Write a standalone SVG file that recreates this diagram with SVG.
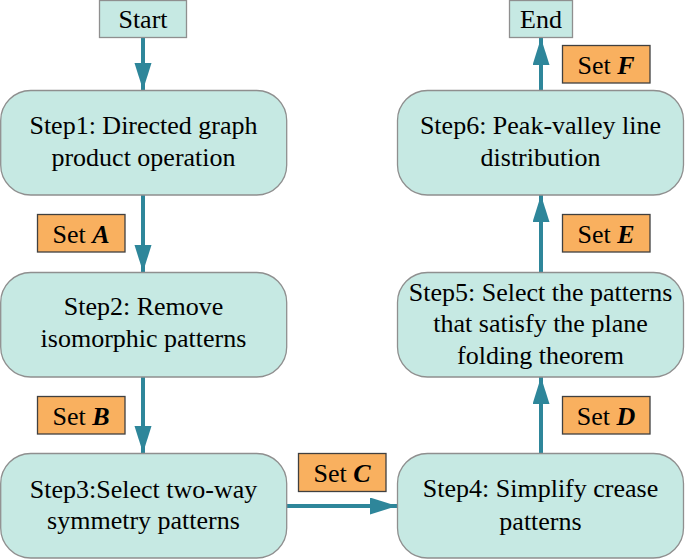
<svg xmlns="http://www.w3.org/2000/svg" width="685" height="559" viewBox="0 0 685 559">
<defs>
<style>
.node{fill:#c6e9e3;stroke:#8f8f8f;stroke-width:1.3}
.set{fill:#f9b05f;stroke:#404040;stroke-width:1.3}
.t{font-size:26px;fill:#000;text-anchor:middle}
.c{stroke:#2e869a;stroke-width:4;fill:none}
.v{font-style:italic;font-weight:bold}
</style>
<marker id="ah" markerUnits="userSpaceOnUse" markerWidth="28" markerHeight="18" refX="27" refY="8.5" orient="auto">
<path d="M0,0 L27,8.5 L0,17 z" fill="#2e869a"/>
</marker>
</defs>
<rect width="685" height="559" fill="#fff"/>
<g id="connectors">
<line class="c" x1="143" y1="38" x2="143" y2="90" marker-end="url(#ah)"/>
<line class="c" x1="143" y1="195" x2="143" y2="272" marker-end="url(#ah)"/>
<line class="c" x1="143" y1="377" x2="143" y2="453" marker-end="url(#ah)"/>
<line class="c" x1="287" y1="506" x2="397" y2="506" marker-end="url(#ah)"/>
<line class="c" x1="541" y1="453" x2="541" y2="377" marker-end="url(#ah)"/>
<line class="c" x1="541" y1="273" x2="541" y2="195" marker-end="url(#ah)"/>
<line class="c" x1="541" y1="90" x2="541" y2="38" marker-end="url(#ah)"/>
</g>
<g font-family="'Liberation Serif', 'Times New Roman', serif">
<g id="start"><rect class="node" x="99.5" y="0.5" width="87" height="37"/><text class="t" x="143" y="28">Start</text></g>
<g id="end"><rect class="node" x="509.5" y="0.5" width="63" height="37"/><text class="t" x="541" y="28">End</text></g>
<g id="step1"><rect class="node" x="0.7" y="90.5" width="286" height="104.5" rx="30"/><text class="t" x="143.5" y="134">Step1: Directed graph</text><text class="t" x="143.5" y="166">product operation</text></g>
<g id="step2"><rect class="node" x="0.7" y="272.5" width="286" height="104.5" rx="30"/><text class="t" x="143.5" y="315">Step2: Remove</text><text class="t" x="143.5" y="347">isomorphic patterns</text></g>
<g id="step3"><rect class="node" x="0.7" y="453.5" width="286" height="104.5" rx="30"/><text class="t" x="143.5" y="498">Step3:Select two-way</text><text class="t" x="143.5" y="529">symmetry patterns</text></g>
<g id="step4"><rect class="node" x="397.5" y="453.5" width="286" height="104.5" rx="30"/><text class="t" x="540.5" y="497">Step4: Simplify crease</text><text class="t" x="540.5" y="530">patterns</text></g>
<g id="step5"><rect class="node" x="397.5" y="272.5" width="286" height="104.5" rx="30"/><text class="t" x="540.5" y="301">Step5: Select the patterns</text><text class="t" x="540.5" y="332">that satisfy the plane</text><text class="t" x="540.5" y="364">folding theorem</text></g>
<g id="step6"><rect class="node" x="397.5" y="90.5" width="286" height="104.5" rx="30"/><text class="t" x="540.5" y="134">Step6: Peak-valley line</text><text class="t" x="540.5" y="166">distribution</text></g>
<g id="setA"><rect class="set" x="37.5" y="214.5" width="87.5" height="37.5"/><text class="t" x="81" y="243">Set <tspan class="v">A</tspan></text></g>
<g id="setB"><rect class="set" x="37.5" y="396.5" width="87.5" height="37.5"/><text class="t" x="81" y="425">Set <tspan class="v">B</tspan></text></g>
<g id="setC"><rect class="set" x="298.5" y="453.5" width="87.5" height="38"/><text class="t" x="342" y="482">Set <tspan class="v">C</tspan></text></g>
<g id="setD"><rect class="set" x="562.5" y="396.5" width="87.5" height="37.5"/><text class="t" x="606" y="425">Set <tspan class="v">D</tspan></text></g>
<g id="setE"><rect class="set" x="562.5" y="214.5" width="87.5" height="37.5"/><text class="t" x="606" y="243">Set <tspan class="v">E</tspan></text></g>
<g id="setF"><rect class="set" x="562.5" y="45.5" width="87.5" height="37.5"/><text class="t" x="606" y="74">Set <tspan class="v">F</tspan></text></g>
</g>
</svg>
